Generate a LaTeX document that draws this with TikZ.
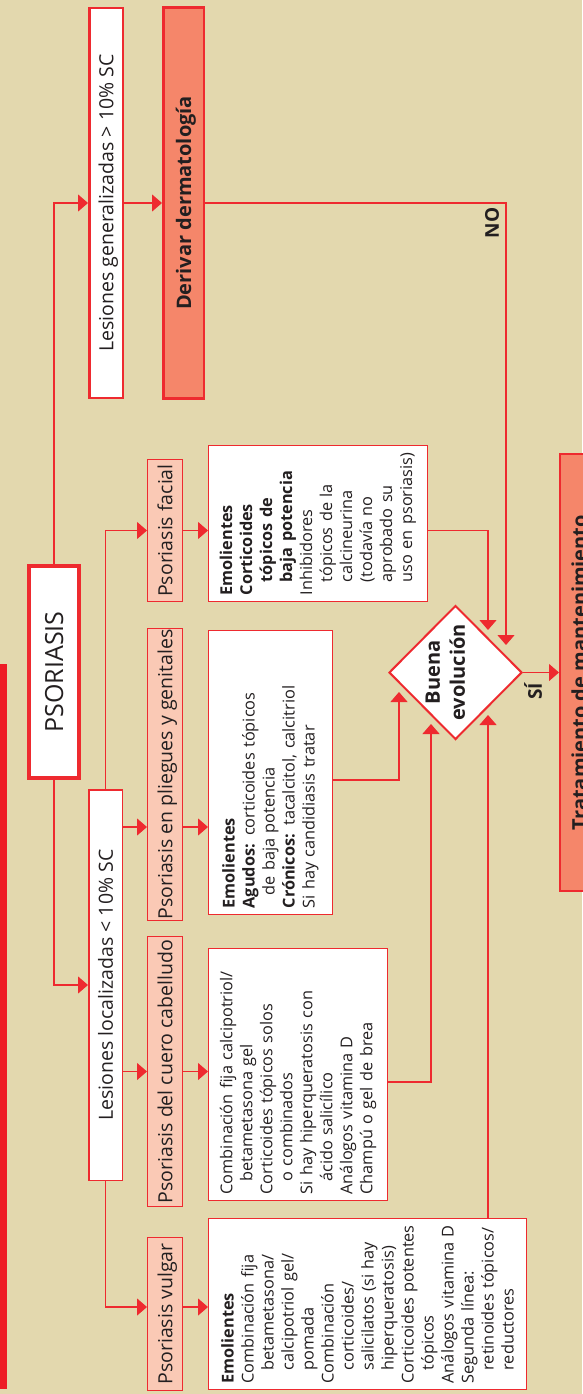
\documentclass[tikz,border=0pt]{standalone}
\usepackage{fontspec}
\setmainfont{Open Sans}
\usetikzlibrary{arrows.meta,shapes.geometric}
\definecolor{bg}{HTML}{E3D8AE}
\definecolor{rd}{HTML}{EE2A2F}
\definecolor{salmon}{HTML}{F5866A}
\definecolor{pinkfill}{HTML}{FAC9B5}
\definecolor{tx}{HTML}{231F20}
\definecolor{barred}{HTML}{EE1C25}
\newcommand{\fsz}[2]{\fontsize{#1}{#2}\selectfont}
\newcommand{\ind}[1]{\mbox{\hspace*{13pt}#1}}
\newcommand{\ol}[1]{\mbox{#1}}
\begin{document}
\begin{tikzpicture}[x=1pt,y=-1pt,
  every node/.style={text=tx},
  arr/.style={color=rd, draw=rd, line width=1.2pt, -{Triangle[length=10pt,width=17pt]}},
  rbox/.style={rotate=90, draw=rd, inner sep=0pt, align=center, text depth=0pt},
  lab/.style={rbox, fill=white, line width=1.5pt, font=\fsz{19.5}{23}},
  cat/.style={rbox, fill=pinkfill, line width=1.3pt, font=\fsz{19.5}{23}, minimum height=34.7pt},
  treat/.style={rotate=90, draw=rd, fill=white, line width=1.3pt, inner xsep=6pt, inner ysep=0pt, align=left, font=\fsz{16.3}{20}},
  tag/.style={rotate=90, inner sep=0pt, font=\bfseries\fsz{19}{22}}
]
\fill[bg] (0,0) rectangle (582,1394);
\useasboundingbox (0,0) rectangle (582,1394);
\fill[barred] (-3,664) rectangle (6.5,1389);

% top level
\node[rbox, fill=white, line width=4pt, minimum width=212pt, minimum height=50pt, font=\fsz{25}{30}] (pso) at (54,672) {PSORIASIS};
\node[lab, line width=2.5pt, minimum width=389.5pt, minimum height=33.5pt] (gen) at (106,203) {Lesiones generalizadas > 10\% SC};
\node[rbox, fill=salmon, line width=2.5pt, minimum width=390.5pt, minimum height=40.5pt, font=\bfseries\fsz{20}{24}] (der) at (183.5,203) {Derivar dermatología};
\node[lab, minimum width=390.5pt, minimum height=33.5pt] (loc) at (105.5,985) {Lesiones localizadas < 10\% SC};

% categories
\node[cat, minimum width=141.7pt] (fac) at (165,530.5) {Psoriasis facial};
\node[cat, minimum width=291.7pt] (pli) at (165,774.5) {Psoriasis en pliegues y genitales};
\node[cat, minimum width=269.7pt] (cue) at (165,1071.5) {Psoriasis del cuero cabelludo};
\node[cat, minimum width=152.7pt] (vul) at (165,1314) {Psoriasis vulgar};

% treatments
\node[treat, text width=143.7pt, minimum height=218.7pt] (tfa) at (318,523.5) {%
\textbf{Emolientes}\\
\textbf{Corticoides}\\
\ind{\textbf{tópicos de}}\\
\ind{\textbf{baja potencia}}\\
\ol{Inhibidores}\\
\ind{tópicos de la}\\
\ind{calcineurina}\\
\ind{(todavía no}\\
\ind{aprobado su}\\
\ind{uso en psoriasis)}};
\node[treat, text width=271.7pt, minimum height=123.7pt] (tpl) at (270.5,772.5) {%
\textbf{Emolientes}\\
\ol{\textbf{Agudos:} corticoides tópicos}\\
\ind{de baja potencia}\\
\ol{\textbf{Crónicos:} tacalcitol, calcitriol}\\
\ol{Si hay candidiasis tratar}};
\node[treat, text width=239.7pt, minimum height=178.7pt] (tcu) at (298,1074.5) {%
\ol{Combinación fija calcipotriol/}\\
\ind{betametasona gel}\\
\ol{Corticoides tópicos solos}\\
\ind{o combinados}\\
\ol{Si hay hiperqueratosis con}\\
\ind{ácido salicílico}\\
\ol{Análogos vitamina D}\\
\ol{Champú o gel de brea}};
\node[treat, text width=158.7pt, minimum height=317.7pt] (tvu) at (367.5,1304) {%
\textbf{Emolientes}\\
\ol{Combinación fija}\\
\ind{betametasona/}\\
\ind{calcipotriol gel/}\\
\ind{pomada}\\
\ol{Combinación}\\
\ind{corticoides/}\\
\ind{salicilatos (si hay}\\
\ind{hiperqueratosis)}\\
\ol{Corticoides potentes}\\
\ind{tópicos}\\
\ol{Análogos vitamina D}\\
\ol{Segunda línea:}\\
\ind{retinoides tópicos/}\\
\ind{reductores}};

% decision and result
\node[diamond, rotate=90, draw=rd, fill=white, line width=2pt, minimum width=134pt, minimum height=133pt, inner sep=0pt, font=\bfseries\fsz{20}{25}] (dia) at (455.5,672.5)
  {\raisebox{3pt}[0pt][0pt]{\makebox[0pt]{\begin{tabular}{@{}c@{}}Buena\\evolución\end{tabular}}}};
\node[rbox, fill=salmon, line width=2pt, minimum width=437pt, minimum height=38pt, font=\bfseries\fsz{20}{24}] (tra) at (579,672.5) {Tratamiento de mantenimiento};

\node[tag] (no) at (492,223) {NO};
\node[tag] (si) at (533,691.5) {SÍ};

% helper coordinates
\coordinate (yPl) at (0,827);
\coordinate (yVu) at (0,1307);
\coordinate (yTp) at (0,780);
\coordinate (yTc) at (0,1082);
\coordinate (d1) at (488,630);
\coordinate (d2) at (506,645);
\coordinate (d3) at (399,692);
\coordinate (d4) at (431,724);
\coordinate (d5) at (488,715);

% connectors
\draw[arr] (pso.east) |- (gen.north);
\draw[arr] (gen.south) -- (der.north);
\draw[arr] (der.south) -| (d2);
\draw[arr] (pso.west) |- (loc.north);
\draw[arr] (loc.east) |- (fac.north);
\draw[arr] (loc.south |- yPl) -- (pli.north |- yPl);
\draw[arr] (loc.south |- cue.north) -- (cue.north);
\draw[arr] (loc.west) |- (vul.north |- yVu);
\draw[arr] (fac.south) -- (fac.south -| tfa.north);
\draw[arr] (pli.south |- yPl) -- (tpl.north |- yPl);
\draw[arr] (cue.south) -- (cue.south -| tcu.north);
\draw[arr] (vul.south |- yVu) -- (tvu.north |- yVu);
\draw[arr] (tfa.south |- fac.south) -| (d1);
\draw[arr] (tpl.south |- yTp) -| (d3);
\draw[arr] (tcu.south |- yTc) -| (d4);
\draw[arr] (tvu.east -| d5) -- (d5);
\draw[arr] (dia.south) -- (dia.south -| tra.north);
\end{tikzpicture}
\end{document}
